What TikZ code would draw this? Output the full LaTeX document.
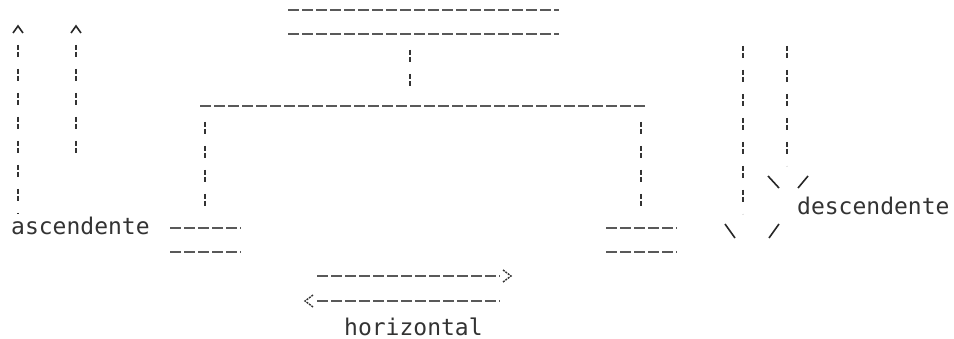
\documentclass[tikz,border=0pt]{standalone}
\usepackage{fontspec}
\newfontfamily\dotmono{DejaVu Sans Mono}
\begin{document}
\begin{tikzpicture}[x=1pt,y=-1pt,
  hline/.style={draw=black!65,line width=1.2pt,dash pattern=on 10.5pt off 3.5pt},
  vline/.style={draw=black!80,line width=1.8pt,dash pattern=on 5.5pt off 1.5pt on 5.5pt off 11.5pt},
  stroke/.style={draw=black!85,line width=1.6pt},
  lbl/.style={font=\dotmono\fontsize{23}{23}\selectfont,text=black!80,inner sep=0pt,anchor=base west},
  chev/.style={draw=black!80,line width=1.4pt,dash pattern=on 2pt off 1pt}]
\useasboundingbox (0,0) rectangle (954,339);
\fill[white] (0,0) rectangle (954,339);
% top double line
\coordinate (t1a) at (288,10); \coordinate (t1b) at (559,10);
\coordinate (t2a) at (288,34); \coordinate (t2b) at (559,34);
\draw[hline] (t1a) -- (t1b);
\draw[hline] (t2a) -- (t2b);
\coordinate (tva) at (410,50); \coordinate (tvb) at (410,92);
\draw[vline] (tva) -- (tvb);
% long horizontal
\coordinate (ha) at (200,106); \coordinate (hb) at (645,106);
\draw[hline] (ha) -- (hb);
% left leg
\coordinate (lva) at (205,122); \coordinate (lvb) at (205,214);
\draw[vline] (lva) -- (lvb);
\coordinate (l1a) at (170,228); \coordinate (l1b) at (241,228);
\coordinate (l2a) at (170,252); \coordinate (l2b) at (241,252);
\draw[hline] (l1a) -- (l1b);
\draw[hline] (l2a) -- (l2b);
% right leg
\coordinate (rva) at (641,122); \coordinate (rvb) at (641,214);
\draw[vline] (rva) -- (rvb);
\coordinate (r1a) at (606,228); \coordinate (r1b) at (677,228);
\coordinate (r2a) at (606,252); \coordinate (r2b) at (677,252);
\draw[hline] (r1a) -- (r1b);
\draw[hline] (r2a) -- (r2b);
% ascending arrows
\coordinate (a1a) at (18,45); \coordinate (a1b) at (18,214);
\coordinate (a2a) at (76,45); \coordinate (a2b) at (76,162);
\draw[vline] (a1a) -- (a1b);
\draw[vline] (a2a) -- (a2b);
\coordinate (c1l) at (13,33); \coordinate (c1t) at (18,26); \coordinate (c1r) at (23,33);
\coordinate (c2l) at (71,33); \coordinate (c2t) at (76,26); \coordinate (c2r) at (81,33);
\draw[stroke] (c1l) -- (c1t) -- (c1r);
\draw[stroke] (c2l) -- (c2t) -- (c2r);
\node[lbl] (asc) at (11,235) {ascendente};
% descending arrows
\coordinate (d1a) at (743,46); \coordinate (d1b) at (743,214);
\coordinate (d2a) at (787,46); \coordinate (d2b) at (787,166);
\draw[vline] (d1a) -- (d1b);
\draw[vline] (d2a) -- (d2b);
\coordinate (s1a) at (768,176); \coordinate (s1b) at (779,188);
\coordinate (s2a) at (808,176); \coordinate (s2b) at (798,188);
\coordinate (s3a) at (725,224); \coordinate (s3b) at (735,238);
\coordinate (s4a) at (779,224); \coordinate (s4b) at (769,238);
\draw[stroke] (s1a) -- (s1b);
\draw[stroke] (s2a) -- (s2b);
\draw[stroke] (s3a) -- (s3b);
\draw[stroke] (s4a) -- (s4b);
\node[lbl] (desc) at (797,215) {descendente};
% horizontal arrows
\coordinate (h1a) at (317,276); \coordinate (h1b) at (500,276);
\coordinate (h2a) at (317,301); \coordinate (h2b) at (500,301);
\draw[hline] (h1a) -- (h1b);
\draw[hline] (h2a) -- (h2b);
\coordinate (g1a) at (503,270); \coordinate (g1t) at (511,276); \coordinate (g1b) at (503,282);
\coordinate (g2a) at (313,295); \coordinate (g2t) at (305,301); \coordinate (g2b) at (313,307);
\draw[chev] (g1a) -- (g1t) -- (g1b);
\draw[chev] (g2a) -- (g2t) -- (g2b);
\node[lbl] (hor) at (344,335) {horizontal};
\end{tikzpicture}
\end{document}
